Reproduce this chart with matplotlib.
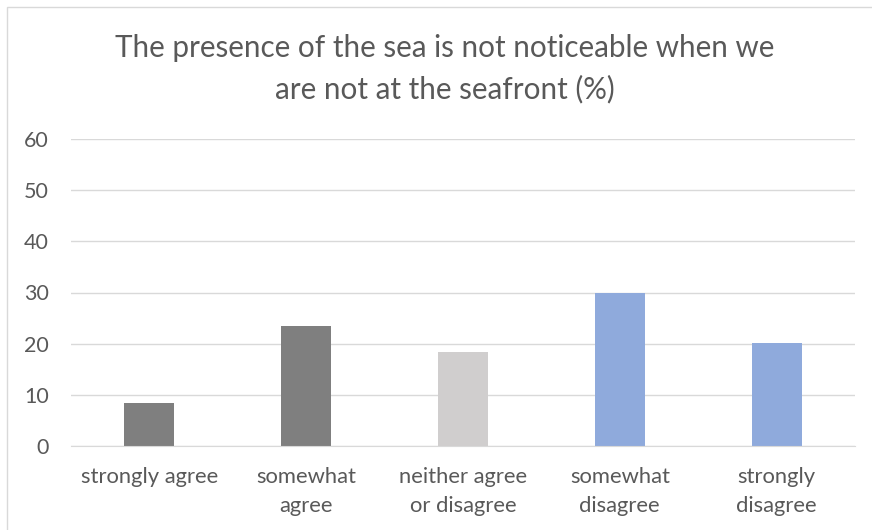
import matplotlib.pyplot as plt
from matplotlib.patches import Rectangle

categories = ["strongly agree", "somewhat\nagree", "neither agree\nor disagree",
              "somewhat\ndisagree", "strongly\ndisagree"]
values = [8.4, 23.4, 18.3, 30.0, 20.1]
colors = ["#7f7f7f", "#7f7f7f", "#d0cece", "#8faadc", "#8faadc"]
yticks = [0, 10, 20, 30, 40, 50, 60]

plt.rcParams["font.family"] = ["Lato", "DejaVu Sans"]
text_color = "#595959"

fig = plt.figure(figsize=(8.72, 5.30), dpi=100)
ax = fig.add_axes([71/872, 1-446/530, 784/872, (446-139)/530])

x = range(len(categories))
ax.bar(x, values, width=0.32, color=colors, zorder=3)

ax.set_xlim(-0.5, len(categories) - 0.5)
ax.set_ylim(0, 60)
ax.set_yticks(yticks)
ax.set_xticks(list(x))
ax.set_xticklabels(categories, fontsize=15.8, color=text_color, linespacing=1.6)
ax.tick_params(axis="y", labelsize=15.5, labelcolor=text_color, length=0, pad=16)
ax.tick_params(axis="x", length=0, pad=15)
for t in ax.get_xticklabels():
    t.set_verticalalignment("top")

ax.grid(axis="y", color="#d9d9d9", linewidth=1, zorder=0)
for s in ["top", "right", "left"]:
    ax.spines[s].set_visible(False)
ax.spines["bottom"].set_color("#d9d9d9")
ax.spines["bottom"].set_zorder(4)

fig.text(0.51, 1-48/530, "The presence of the sea is not noticeable when we",
         ha="center", va="center", fontsize=21.3, color=text_color)
fig.text(0.51, 1-89/530, "are not at the seafront (%)",
         ha="center", va="center", fontsize=21.3, color=text_color)

# chart area border
fig.patches.append(Rectangle((7/872, -0.01), 1.0, 1 - 7/530 + 0.01, transform=fig.transFigure,
                             fill=False, edgecolor="#d9d9d9", linewidth=1))

fig.savefig("out.png", dpi=100)
